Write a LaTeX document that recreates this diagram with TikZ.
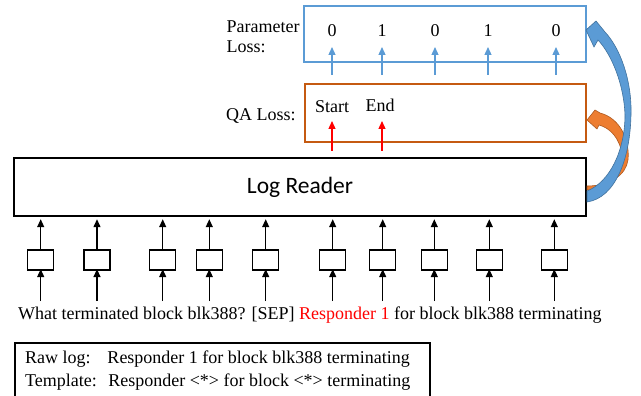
\documentclass[tikz,border=0pt]{standalone}
\usepackage{fontspec}
\setmainfont{Liberation Serif}
\newfontfamily\calib{Carlito}
\usetikzlibrary{arrows.meta}
\definecolor{pblue}{HTML}{5B9BD5}
\definecolor{pblued}{HTML}{41719C}
\definecolor{qorange}{HTML}{ED7D31}
\definecolor{qoranged}{HTML}{AE5A21}
\definecolor{qaedge}{HTML}{C55A11}
\tikzset{
  tok/.style={draw=black,line width=1.3pt,minimum width=26pt,minimum height=20pt,inner sep=0pt},
  up/.style={line width=1.3pt,-{Triangle[length=8pt,width=7pt]}},
  bup/.style={pblue,line width=1.3pt,-{Triangle[length=8pt,width=7pt]}},
  rup/.style={red,line width=1.3pt,-{Triangle[length=8pt,width=7pt]}},
  lbl/.style={font=\fontsize{18}{19}\selectfont,inner sep=0pt},
}
\begin{document}
\begin{tikzpicture}[x=1pt,y=-1pt]
\useasboundingbox (0,0) rectangle (641,396);
% boxes
\node[draw=pblue,line width=1.4pt,minimum width=282pt,minimum height=56pt,inner sep=0pt] (param) at (445,34) {};
\node[draw=qaedge,line width=1.4pt,minimum width=281pt,minimum height=58pt,inner sep=0pt] (qa) at (445.5,113) {};
\node[draw=black,line width=1.4pt,minimum width=572pt,minimum height=58pt,inner sep=0pt,font=\calib\fontsize{23.5}{26}\selectfont] (lr) at (300,187) {Log Reader};
% left labels
\node[lbl,anchor=base west] (plab) at (226.5,33) {Parameter};
\node[lbl,anchor=base west] (plab2) at (226.5,53) {Loss:};
\node[lbl,anchor=base west] (qlab) at (226,121) {QA Loss:};
% digits
\foreach \i/\x/\d in {1/332/0,2/382/1,3/435/0,4/488/1,5/556/0}{
  \node[lbl,anchor=base] (p\i) at (\x,37) {\d};
  \coordinate (pb\i) at (\x,75);
  \coordinate (pt\i) at (\x,47);
  \draw[bup] (pb\i) -- (pt\i);
}
% start end
\node[lbl,anchor=base] (st) at (332,113) {Start};
\node[lbl,anchor=base] (en) at (380,112) {End};
\coordinate (sb) at (332,151); \coordinate (stt) at (332,121);
\coordinate (eb) at (382,151); \coordinate (ent) at (382,121);
\draw[rup] (sb) -- (stt);
\draw[rup] (eb) -- (ent);
% tokens
\foreach \i/\x in {1/40.7,2/97,3/162.7,4/209.3,5/265.7,6/332.7,7/382.7,8/434.3,9/489.3,10/554.3}{
  \node[tok] (t\i) at (\x,260) {};
  \coordinate (w\i) at (\x,301);
  \draw[up] (w\i) -- ([yshift=1.5pt]t\i.south);
  \draw[up] (t\i.north) -- ([yshift=-2.5pt]t\i.north |- lr.south);
}
% sentence
\node[lbl,anchor=base west] (sent) at (18,319) {What terminated block blk388? [SEP] \textcolor{red}{Responder 1} for block blk388 terminating};
% bottom box
\draw[line width=1.1pt] (15,410) -- (15,343) -- (430,343) -- (430,410);
\node[lbl,anchor=base west,align=left] (raw) at (25,363) {Raw log:\hspace{0.6em} Responder 1 for block blk388 terminating};
\node[lbl,anchor=base west,align=left] (tpl) at (25,386) {Template:\hspace{0.3em} Responder <*> for block <*> terminating};
% curved block arrows
\filldraw[fill=qorange,draw=qoranged,line width=0.6pt]
  (587,120) -- (595,110) -- (600,113)
  .. controls (620,118) and (630,140) .. (628,160)
  .. controls (626,175) and (610,186) .. (587,186)
  -- (587,190)
  .. controls (612,190) and (624,172) .. (622,155)
  .. controls (620,138) and (610,128) .. (599,125)
  -- (597,129) -- cycle;
\filldraw[fill=pblue,draw=pblued,line width=0.6pt]
  (586,30) -- (596,21) -- (605,32)
  .. controls (620,48) and (632,80) .. (631,115)
  .. controls (630,160) and (615,198) .. (587,202)
  -- (587,191)
  .. controls (610,182) and (625,150) .. (625,115)
  .. controls (624,85) and (612,55) .. (598,40)
  -- (594,47) -- cycle;
\end{tikzpicture}
\end{document}
